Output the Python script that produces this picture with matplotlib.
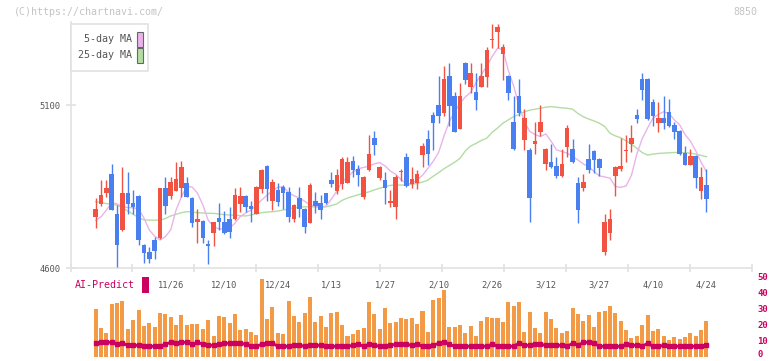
import matplotlib
matplotlib.use("Agg")
import matplotlib.pyplot as plt
from matplotlib.patches import Rectangle
import matplotlib.transforms as mtransforms
import numpy as np

plt.rcParams["font.family"] = ["DejaVu Sans Mono"]

# ---- data ----
opens = [4758, 4797, 4831, 4890, 4766, 4718, 4830, 4800, 4821, 4671,
         4649, 4686, 4693, 4846, 4822, 4838, 4847, 4861, 4815, 4741,
         4745, 4674, 4708, 4754, 4741, 4751, 4751, 4797, 4821, 4791,
         4767, 4844, 4913, 4807, 4840, 4849, 4834, 4752, 4815, 4781,
         4739, 4806, 4800, 4830, 4870, 4838, 4859, 4862, 4929, 4904,
         4818, 4901, 5000, 4878, 4870, 4799, 4788, 4894, 4941, 4859,
         4862, 4948, 4997, 5070, 5101, 5077, 5190, 5129, 5028, 5230,
         5157, 5141, 5157, 5188, 5300, 5325, 5259, 5190, 5049, 5129,
         4994, 4963, 4982, 5019, 4920, 4926, 4913, 4883, 4972, 4966,
         4861, 4847, 4935, 4960, 4935, 4650, 4708, 4884, 4905, 4959,
         4981, 5070, 5181, 5181, 5110, 5046, 5061, 5079, 5039, 5021,
         4953, 4917, 4944, 4838, 4855]
highs = [4814, 4870, 4870, 4921, 4794, 4910, 4895, 4840, 4825, 4675,
         4665, 4696, 4846, 4880, 4880, 4926, 4929, 4881, 4817, 4782,
         4748, 4686, 4741, 4800, 4775, 4788, 4846, 4849, 4823, 4806,
         4851, 4903, 4915, 4874, 4861, 4855, 4848, 4796, 4849, 4783,
         4861, 4834, 4824, 4832, 4895, 4904, 4942, 4942, 4945, 4917,
         4882, 5010, 5021, 4912, 4896, 4840, 4886, 4905, 4953, 4910,
         4901, 4985, 5024, 5079, 5190, 5221, 5230, 5141, 5169, 5232,
         5230, 5199, 5230, 5280, 5350, 5350, 5288, 5192, 5129, 5181,
         5089, 4970, 5049, 5101, 4970, 4981, 4941, 4966, 5039, 4996,
         4880, 4889, 4981, 4962, 4937, 4766, 4781, 4912, 5000, 5009,
         5039, 5088, 5199, 5185, 5119, 5110, 5129, 5119, 5049, 5023,
         4975, 4966, 4946, 4910, 4904]
lows = [4724, 4791, 4819, 4779, 4604, 4715, 4766, 4766, 4672, 4614,
        4614, 4629, 4688, 4766, 4813, 4836, 4819, 4819, 4727, 4678,
        4678, 4613, 4669, 4717, 4706, 4693, 4749, 4773, 4773, 4742,
        4765, 4830, 4806, 4779, 4790, 4781, 4742, 4742, 4758, 4708,
        4737, 4768, 4752, 4797, 4850, 4828, 4844, 4860, 4881, 4853,
        4812, 4899, 4948, 4871, 4798, 4788, 4752, 4868, 4850, 4845,
        4844, 4911, 4917, 4963, 5047, 5068, 5037, 5017, 5026, 5165,
        5139, 5086, 5155, 5157, 5277, 5277, 5178, 5116, 4963, 5068,
        4963, 4741, 4950, 5007, 4900, 4907, 4877, 4881, 4942, 4923,
        4738, 4838, 4892, 4892, 4883, 4640, 4686, 4821, 4899, 4926,
        4956, 5046, 5116, 5055, 5036, 5018, 5027, 5034, 4996, 4948,
        4915, 4915, 4846, 4812, 4772]
closes = [4781, 4824, 4847, 4779, 4672, 4830, 4797, 4788, 4687, 4647,
          4629, 4653, 4846, 4791, 4864, 4874, 4910, 4819, 4739, 4751,
          4693, 4669, 4741, 4742, 4708, 4712, 4824, 4821, 4788, 4782,
          4849, 4901, 4844, 4864, 4804, 4831, 4758, 4794, 4782, 4727,
          4855, 4791, 4779, 4799, 4859, 4886, 4935, 4926, 4901, 4887,
          4880, 4950, 4979, 4910, 4847, 4806, 4880, 4896, 4853, 4874,
          4889, 4975, 4951, 5047, 5068, 5181, 5099, 5019, 5129, 5178,
          5199, 5117, 5190, 5270, 5302, 5341, 5279, 5139, 4967, 5077,
          5062, 4815, 4990, 5049, 4965, 4910, 4883, 4920, 5030, 4926,
          4778, 4864, 4901, 4932, 4908, 4741, 4751, 4910, 4913, 4961,
          5000, 5058, 5148, 5058, 5067, 5061, 5046, 5036, 5018, 4950,
          4917, 4944, 4877, 4880, 4812]

ma5 = [4747, 4757, 4778, 4801, 4797, 4788, 4786, 4785, 4781, 4754,
       4717, 4698, 4686, 4696, 4717, 4778, 4819, 4850, 4849, 4830,
       4794, 4747, 4727, 4720, 4721, 4722, 4738, 4758, 4769, 4778,
       4794, 4809, 4824, 4838, 4848, 4850, 4832, 4822, 4816, 4805,
       4794, 4789, 4787, 4790, 4812, 4836, 4865, 4880, 4895, 4905,
       4909, 4913, 4920, 4924, 4914, 4898, 4888, 4872, 4859, 4859,
       4870, 4885, 4906, 4928, 4955, 5005, 5050, 5080, 5106, 5126,
       5140, 5170, 5195, 5220, 5250, 5275, 5272, 5208, 5160, 5100,
       5050, 5020, 5010, 5004, 5012, 4990, 4963, 4958, 4953, 4943,
       4932, 4920, 4911, 4897, 4883, 4880, 4876, 4850, 4848, 4852,
       4885, 4950, 4997, 5030, 5060, 5072, 5080, 5075, 5055, 5040,
       5010, 4990, 4960, 4925, 4896]
ma25 = [4804, 4801, 4798, 4796, 4793, 4785, 4775, 4765, 4755, 4748,
        4747, 4747, 4747, 4752, 4760, 4765, 4770, 4773, 4772, 4770,
        4769, 4768, 4768, 4766, 4764, 4763, 4762, 4761, 4760, 4763,
        4767, 4770, 4772, 4773, 4775, 4778, 4782, 4785, 4787, 4788,
        4788, 4788, 4787, 4788, 4792, 4797, 4808, 4815, 4820, 4825,
        4830, 4834, 4840, 4845, 4850, 4854, 4855, 4855, 4855, 4857,
        4860, 4864, 4870, 4882, 4893, 4905, 4915, 4925, 4937, 4960,
        4975, 4983, 4992, 4999, 5017, 5030, 5045, 5055, 5065, 5072,
        5080, 5085, 5088, 5091, 5094, 5096, 5094, 5092, 5091, 5088,
        5075, 5065, 5058, 5052, 5045, 5035, 5014, 5006, 5000, 4991,
        4980, 4968, 4955, 4947, 4950, 4952, 4953, 4954, 4955, 4955,
        4954, 4953, 4950, 4946, 4942]

volume = [30.4, 18.4, 15.3, 33.5, 34.1, 35.4, 17.8, 23.5, 29.8, 19.7,
          21.6, 19.1, 27.9, 27.2, 25.3, 20.3, 26.6, 20.3, 21.0, 21.0,
          17.8, 23.5, 13.4, 26.0, 25.3, 21.6, 27.2, 17.2, 17.8, 15.9,
          14.0, 49.0, 24.0, 31.6, 15.3, 14.7, 35.4, 26.0, 22.2, 27.9,
          37.9, 22.2, 26.0, 19.1, 27.9, 28.5, 20.3, 13.4, 14.7, 17.2,
          18.4, 34.8, 27.2, 17.8, 31.0, 21.6, 22.2, 24.7, 24.0, 24.7,
          21.0, 29.1, 15.9, 36.0, 37.3, 42.3, 19.1, 19.1, 20.3, 15.3,
          19.7, 13.4, 22.8, 25.3, 24.7, 24.7, 22.2, 34.8, 32.3, 34.8,
          15.9, 28.5, 18.4, 15.3, 28.5, 24.0, 18.4, 15.3, 16.5, 31.0,
          27.2, 22.8, 26.6, 19.1, 28.5, 29.1, 32.3, 27.9, 22.8, 17.2,
          12.1, 13.4, 20.3, 26.6, 16.5, 17.8, 13.4, 10.9, 12.8, 11.5,
          12.8, 15.3, 13.4, 17.2, 22.8]
ai_predict = [8.8, 9.4, 9.4, 9.4, 8.2, 8.8, 7.5, 7.5, 7.5, 6.9,
              6.9, 6.9, 6.9, 8.2, 9.4, 8.8, 9.4, 9.4, 8.2, 9.4,
              8.2, 7.5, 7.5, 8.2, 8.8, 8.8, 8.8, 8.8, 8.2, 6.9,
              6.9, 8.2, 8.8, 8.8, 6.9, 6.9, 6.9, 7.5, 7.5, 7.0,
              7.5, 7.5, 7.5, 6.9, 6.9, 6.9, 6.9, 6.9, 7.5, 8.2,
              6.9, 8.2, 7.5, 6.9, 6.9, 7.5, 8.2, 8.2, 8.2, 7.5,
              8.2, 6.9, 6.9, 7.5, 8.8, 9.4, 8.2, 6.9, 6.9, 6.9,
              6.9, 6.9, 6.9, 6.9, 8.2, 6.9, 6.9, 6.9, 6.9, 8.8,
              7.5, 7.5, 8.2, 8.2, 7.5, 7.5, 7.5, 7.5, 6.9, 8.8,
              7.5, 9.4, 9.4, 8.8, 6.9, 6.9, 6.9, 6.9, 6.9, 8.2,
              7.5, 7.5, 6.9, 8.8, 6.9, 6.9, 7.5, 6.9, 6.9, 6.9,
              6.9, 6.9, 6.9, 6.9, 7.5]

date_labels = ["11/26", "12/10", "12/24", "1/13", "1/27", "2/10",
               "2/26", "3/12", "3/27", "4/10", "4/24"]
label_step = 10
price_ticks = [4600, 5100]
volume_ticks = [0, 10, 20, 30, 40, 50]

# ---- styling ----
UP = "#f25241"
DOWN = "#4a7ff0"
MA5_COLOR = "#eab4ea"
MA25_COLOR = "#b4dca4"
VOL_COLOR = "#f29a45"
AI_COLOR = "#cc0060"
AXIS_GRAY = "#e2e2e2"
TEXT_GRAY = "#555555"

W_PX, H_PX = 772, 361
n = len(closes)
x = np.arange(n)
xlim = (-4.7, 122.5)


def fx(px):
    return px / W_PX


def fy(py):
    return 1 - py / H_PX


fig = plt.figure(figsize=(W_PX / 100, H_PX / 100), dpi=100)

# price panel
ax = fig.add_axes([fx(70.5), fy(268), fx(752) - fx(70.5), fy(22) - fy(268)])
ax.set_xlim(*xlim)
ax.set_ylim(4600, 4600 + (268 - 22) / 0.3254)
ax.patch.set_visible(False)
for side in ("top", "right"):
    ax.spines[side].set_visible(False)
for side in ("left", "bottom"):
    ax.spines[side].set_color(AXIS_GRAY)
    ax.spines[side].set_linewidth(1.2)

o = np.array(opens)
c = np.array(closes)
colors = [UP if cc >= oo else DOWN for oo, cc in zip(o, c)]
ax.plot(x, ma25, color=MA25_COLOR, lw=1.0, zorder=2)
ax.plot(x, ma5, color=MA5_COLOR, lw=1.0, zorder=2)
ax.vlines(x, lows, highs, colors=colors, lw=1.0, zorder=3)
body_h = np.maximum(np.abs(c - o), 3)
ax.bar(x, body_h, bottom=np.minimum(o, c), width=0.85, color=colors,
       linewidth=0, zorder=4)

# x axis: evenly spaced marks, date labels at candles
ax.set_xticks(np.linspace(xlim[0], xlim[1], 12), minor=True)
ax.tick_params(axis="x", which="minor", direction="inout", length=6,
               width=1.2, color=AXIS_GRAY)
label_pos = [n - 1 - label_step * k for k in range(len(date_labels))][::-1]
ax.set_xticks(label_pos)
ax.set_xticklabels(date_labels)
ax.tick_params(axis="x", which="major", length=0, pad=9, labelsize=6.3,
               labelcolor=TEXT_GRAY)
ax.set_yticks(price_ticks)
ax.set_yticklabels([str(t) for t in price_ticks])
ax.tick_params(axis="y", direction="inout", length=6.5, width=1.2,
               color=AXIS_GRAY, pad=4, labelsize=6.3, labelcolor=TEXT_GRAY)

# volume panel
vax = fig.add_axes([fx(70.5), fy(357.3), fx(752) - fx(70.5),
                    fy(277.7) - fy(357.3)])
vax.set_xlim(*xlim)
vax.set_ylim(0, 50)
vax.patch.set_visible(False)
for s in vax.spines.values():
    s.set_visible(False)
vax.bar(x, volume, width=0.75, color=VOL_COLOR, linewidth=0, zorder=2)
vax.plot(x, ai_predict, color=AI_COLOR, lw=2.0, marker="s", ms=2.8,
         zorder=3)
vax.set_xticks([])
vax.set_yticks([])

# right-hand volume scale, drawn as text so the bottom label stays inside
blend = mtransforms.blended_transform_factory(vax.transAxes, vax.transData)
for v in volume_ticks:
    shift = mtransforms.ScaledTranslation(0, 1.8 / 72 if v == 0 else 0,
                                          fig.dpi_scale_trans)
    vax.text(1.0 + 5 / (752 - 70.5), v, str(v), transform=blend + shift,
             ha="left", va="center", fontsize=6.5, fontweight="bold",
             color=AI_COLOR, clip_on=False)

# legend box
fig.patches.append(Rectangle((fx(70.5), fy(71)), fx(148) - fx(70.5),
                             fy(24) - fy(71), transform=fig.transFigure,
                             facecolor="white", edgecolor=AXIS_GRAY, lw=1.2,
                             zorder=10))
for label, col, ty in (("5-day MA", MA5_COLOR, 39.5), ("25-day MA", MA25_COLOR, 55.5)):
    fig.text(fx(132), fy(ty), label, ha="right", va="center", fontsize=7.2,
             color=TEXT_GRAY, zorder=11)
    fig.patches.append(Rectangle((fx(136.5), fy(ty + 7.5)), fx(6), fy(0) - fy(15),
                                 transform=fig.transFigure, facecolor=col,
                                 edgecolor="#666666", lw=0.8, zorder=11))

# AI-Predict marker
fig.text(fx(75), fy(285.5), "AI-Predict", ha="left", va="center",
         fontsize=7.2, color=AI_COLOR)
fig.patches.append(Rectangle((fx(142), fy(293)), fx(7), fy(0) - fy(16),
                             transform=fig.transFigure, facecolor=AI_COLOR,
                             lw=0))

# header texts
fig.text(fx(14), fy(12), "(C)https://chartnavi.com/", ha="left", va="center",
         fontsize=7.2, color="#c4c4c4")
fig.text(fx(757), fy(12), "8850", ha="right", va="center", fontsize=7.2,
         color="#c4c4c4")

fig.savefig("out.png", dpi=100)
